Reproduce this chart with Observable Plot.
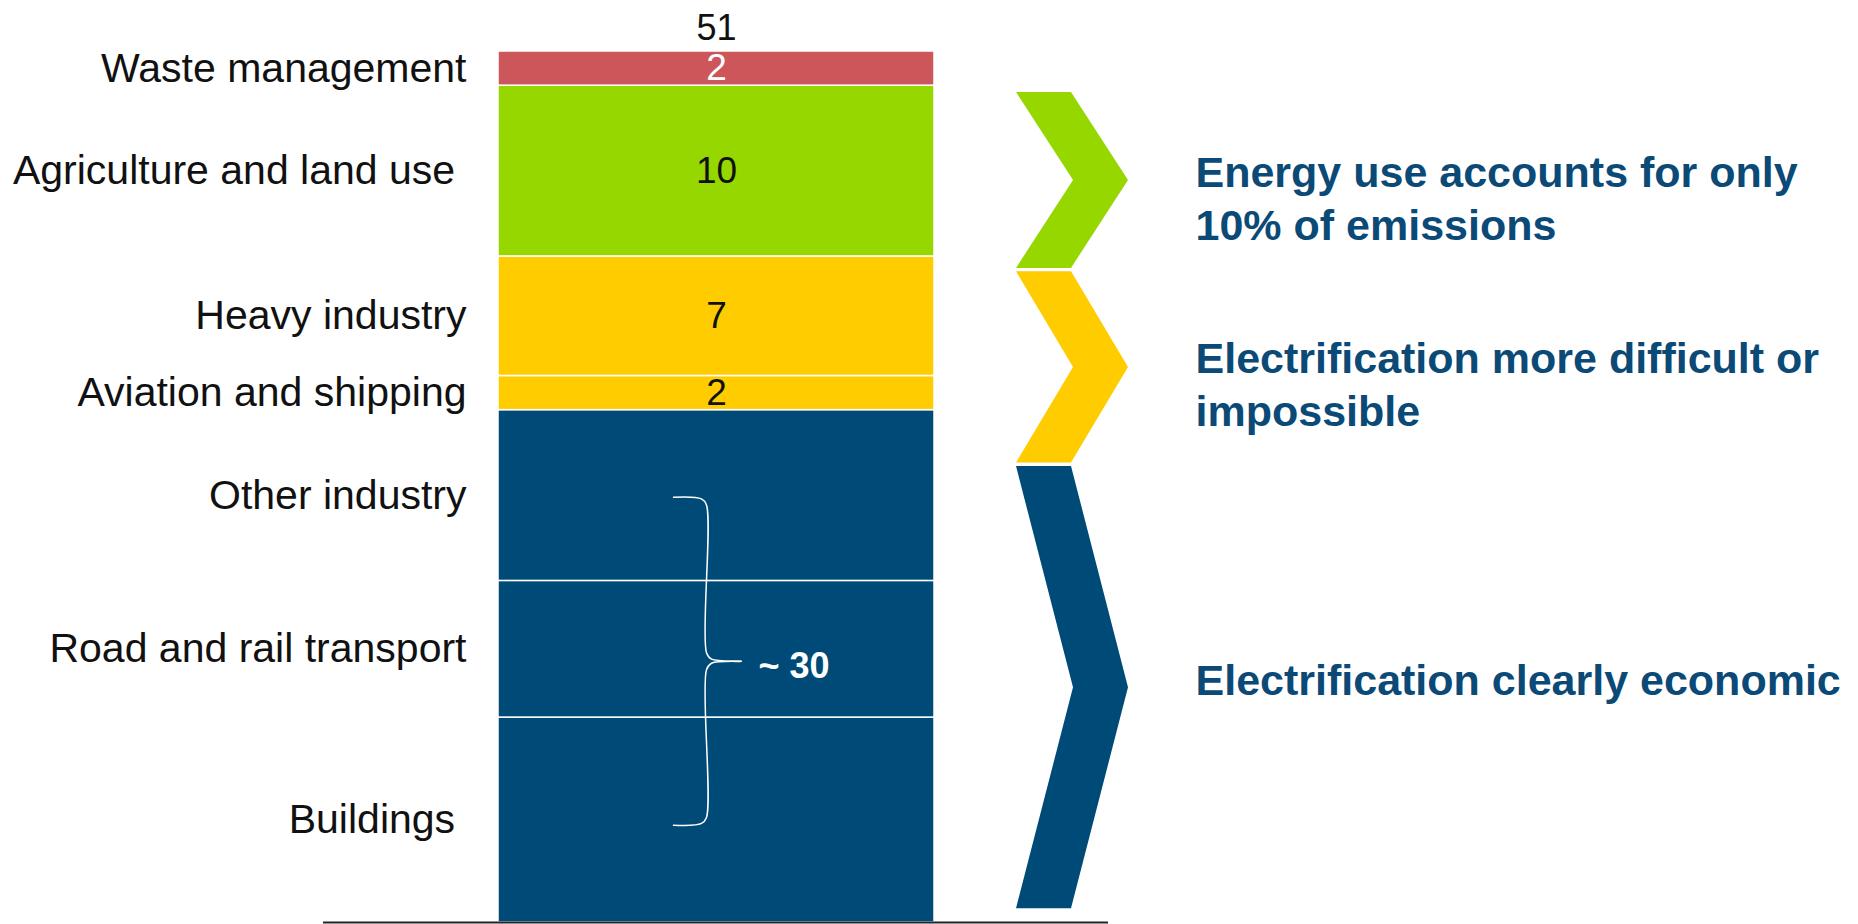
<!DOCTYPE html>
<html><head><meta charset="utf-8">
<script src="https://cdn.jsdelivr.net/npm/d3@7"></script>
<script src="https://cdn.jsdelivr.net/npm/@observablehq/plot@0.6"></script>
<style>html,body{margin:0;padding:0;background:#fff;overflow:hidden}#chart svg{display:block}</style>
</head><body><div id="chart"></div>
<script>
// ---- data (bottom to top) ----
const sectors = ["Buildings", "Road and rail transport", "Other industry", "Aviation and shipping", "Heavy industry", "Agriculture and land use", "Waste management"];
const sectorLabels = ["Buildings\u00A0", "Road and rail transport", "Other industry", "Aviation and shipping", "Heavy industry", "Agriculture and land use\u00A0", "Waste management"];
const values = [12, 8, 10, 2, 7, 10, 2];
const groups = ["economic", "economic", "economic", "difficult", "difficult", "land", "waste"];
const showValue = [false, false, false, true, true, true, true];
const groupKeys = ["economic", "difficult", "land", "waste"];
const groupColors = ["#004A78", "#FFCC00", "#96D700", "#CD565A"];

const chevronGroups = ["land", "difficult", "economic"];
const chevronTop = [48.6, 38.1, 26.7];
const chevronBottom = [38.3, 26.9, 0.8];
const messages = ["Energy use accounts for only\n10% of emissions", "Electrification more difficult or\nimpossible", "Electrification clearly economic"];
const messageY = [42.5, 31.6, 14.3];
const bracedGroup = "economic";

// ---- derived ----
const rows = sectors.map((s, i) => ({sector: s, label: sectorLabels[i], value: values[i], group: groups[i], shown: showValue[i]}));
let acc = 0;
rows.forEach(r => { r.y1 = acc; acc += r.value; r.y2 = acc; r.mid = (r.y1 + r.y2) / 2; });
const total = acc;
const bracedTotal = d3.sum(rows.filter(r => r.group === bracedGroup), r => r.value);

// ---- layout ----
const W = 1858, H = 924;
const BAR_X1 = 498, BAR_X2 = 934, BAR_CX = (BAR_X1 + BAR_X2) / 2, LABEL_X = 466;
const CH_L = 1016, CH_T = 55, CH_D = 57, MSG_X = 1195;
const FONT = "'Liberation Sans', Arial, sans-serif";

const chevronPts = [];
chevronGroups.forEach((g, i) => {
  const t = chevronTop[i], b = chevronBottom[i], m = (t + b) / 2;
  chevronPts.push({g, y: t, x1: CH_L, x2: CH_L + CH_T});
  chevronPts.push({g, y: m, x1: CH_L + CH_D, x2: CH_L + CH_D + CH_T});
  chevronPts.push({g, y: b, x1: CH_L, x2: CH_L + CH_T});
});

const c = bracedTotal * 0.51, h = bracedTotal * 0.32;
const brace = [
  {x: 673, y: c + h}, {x: 701, y: c + h - 0.1}, {x: 706, y: c + h - 0.45},
  {x: 706, y: c + 0.5}, {x: 711, y: c + 0.12}, {x: 741, y: c},
  {x: 711, y: c - 0.12}, {x: 706, y: c - 0.5},
  {x: 706, y: c - h + 0.45}, {x: 701, y: c - h + 0.1}, {x: 673, y: c - h}
];

const chart = Plot.plot({
  width: W, height: H, margin: 0,
  x: {domain: [0, W], range: [0, W], axis: null},
  y: {domain: [0, total], range: [922, 51], axis: null},
  color: {domain: groupKeys, range: groupColors},
  style: {fontFamily: FONT, background: "white"},
  marks: [
    Plot.rect(rows, {x1: () => BAR_X1, x2: () => BAR_X2, y1: "y1", y2: "y2", fill: "group", stroke: "white", strokeWidth: 1.5}),
    Plot.text(rows, {x: () => LABEL_X, y: "mid", text: "label", textAnchor: "end", fontSize: 41, fill: "#111"}),
    Plot.text(rows.filter(r => r.shown), {x: () => BAR_CX, y: "mid", text: d => String(d.value), fontSize: 37, fill: d => d.group === "waste" ? "white" : "#111"}),
    Plot.text([total], {x: () => BAR_CX, y: d => d, text: d => String(d), fontSize: 36, fill: "#111", lineAnchor: "bottom", dy: -12}),
    Plot.line(brace, {x: "x", y: "y", stroke: "white", strokeWidth: 1.5, curve: "catmull-rom"}),
    Plot.text([bracedTotal], {x: () => 758, y: () => bracedTotal / 2, text: d => "~ " + d, fill: "white", fontWeight: "bold", fontSize: 36, textAnchor: "start"}),
    Plot.areaX(chevronPts, {y: "y", x1: "x1", x2: "x2", z: "g", fill: "g", curve: "linear"}),
    Plot.text(messages, {x: () => MSG_X, y: (d, i) => messageY[i], text: d => d, textAnchor: "start", fontWeight: "bold", fontSize: 43, lineHeight: 1.22, fill: "#0B4A77"}),
    Plot.ruleY([0], {x1: () => 323, x2: () => 1108, stroke: "#222", strokeWidth: 2})
  ]
});
document.getElementById("chart").appendChild(chart);
</script></body></html>
